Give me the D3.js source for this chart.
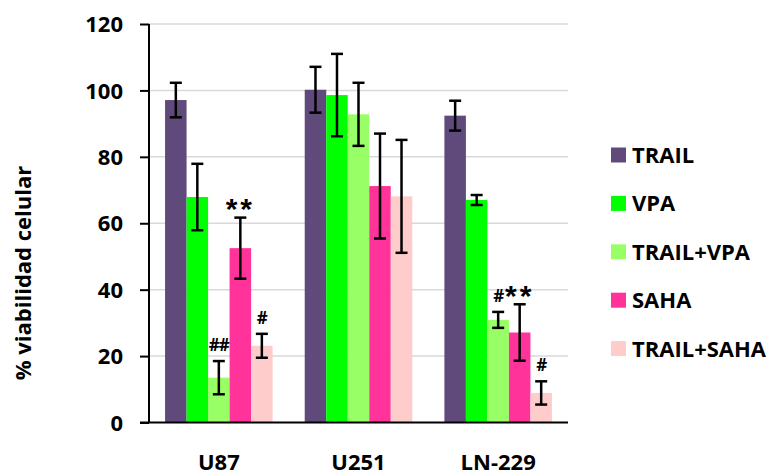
<!DOCTYPE html>
<html>
<head>
<meta charset="utf-8">
<script src="https://cdn.jsdelivr.net/npm/d3@7"></script>
<style>
  html, body { margin: 0; padding: 0; background: #fff; }
  svg text { font-family: "Open Sans", "Liberation Sans", sans-serif; font-weight: bold; fill: #000; }
</style>
</head>
<body>
<svg id="chart" width="769" height="475"></svg>
<script>
// Cell lines on the x axis
const categories = ["U87", "U251", "LN-229"];
// Treatments (one bar each per cell line)
const seriesNames = ["TRAIL", "VPA", "TRAIL+VPA", "SAHA", "TRAIL+SAHA"];
const seriesColors = ["#604A7B", "#00FF00", "#99FF66", "#FF3399", "#FFCCCC"];
// Mean viability (%) per treatment, in category order
const trail      = [97.1, 100.2, 92.4];
const vpa        = [67.9, 98.6, 67.0];
const trailVpa   = [13.5, 92.8, 30.9];
const saha       = [52.5, 71.2, 27.1];
const trailSaha  = [23.1, 68.1, 8.9];
// Error (± SD) per treatment
const trailErr     = [5.2, 6.9, 4.5];
const vpaErr       = [10.0, 12.4, 1.5];
const trailVpaErr  = [5.0, 9.5, 2.4];
const sahaErr      = [9.2, 15.8, 8.5];
const trailSahaErr = [3.6, 17.0, 3.5];
// Significance marks: [category, series, text]
const marks = [
  ["U87", "TRAIL+VPA", "##"],
  ["U87", "SAHA", "**"],
  ["U87", "TRAIL+SAHA", "#"],
  ["LN-229", "TRAIL+VPA", "#"],
  ["LN-229", "SAHA", "**"],
  ["LN-229", "TRAIL+SAHA", "#"]
];
const yTicks = [0, 20, 40, 60, 80, 100, 120];
const yLabel = "% viabilidad celular";

const values = [trail, vpa, trailVpa, saha, trailSaha];
const errors = [trailErr, vpaErr, trailVpaErr, sahaErr, trailSahaErr];

const rows = [];
categories.forEach((c, ci) => {
  seriesNames.forEach((s, si) => {
    rows.push({ cat: c, series: s, value: values[si][ci], err: errors[si][ci], color: seriesColors[si] });
  });
});

const svg = d3.select("#chart");
const plot = { left: 149, right: 568, top: 24, bottom: 422.5 };

const x0 = d3.scaleBand().domain(categories).range([plot.left, plot.right]).paddingInner(0.23).paddingOuter(0.115);
const x1 = d3.scaleBand().domain(seriesNames).range([0, x0.bandwidth()]);
const y = d3.scaleLinear().domain([0, 120]).range([plot.bottom, plot.top]);

// Gridlines
svg.append("g")
  .selectAll("line")
  .data(yTicks.filter(t => t > 0))
  .join("line")
  .attr("x1", plot.left).attr("x2", plot.right)
  .attr("y1", d => y(d)).attr("y2", d => y(d))
  .attr("stroke", "#d9d9d9").attr("stroke-width", 1.5);

// Bars
svg.append("g")
  .selectAll("rect")
  .data(rows)
  .join("rect")
  .attr("x", d => x0(d.cat) + x1(d.series))
  .attr("width", x1.bandwidth())
  .attr("y", d => y(d.value))
  .attr("height", d => y(0) - y(d.value))
  .attr("fill", d => d.color);

// Error bars
const eb = svg.append("g").attr("stroke", "#000").attr("stroke-width", 2.5);
rows.forEach(d => {
  const cx = x0(d.cat) + x1(d.series) + x1.bandwidth() / 2;
  const y1 = y(d.value + d.err), y2 = y(d.value - d.err);
  eb.append("line").attr("x1", cx).attr("x2", cx).attr("y1", y1).attr("y2", y2);
  eb.append("line").attr("x1", cx - 6).attr("x2", cx + 6).attr("y1", y1).attr("y2", y1);
  eb.append("line").attr("x1", cx - 6).attr("x2", cx + 6).attr("y1", y2).attr("y2", y2);
});

// Significance marks above the error bars
marks.forEach(([c, s, t]) => {
  const d = rows.find(r => r.cat === c && r.series === s);
  const cx = x0(c) + x1(s) + x1.bandwidth() / 2;
  const star = t.includes("*");
  const label = svg.append("text")
    .attr("x", cx)
    .attr("y", y(d.value + d.err) - (star ? 17 : 16))
    .attr("dy", star ? "0.62em" : "0.36em")
    .attr("text-anchor", "middle")
    .attr("font-size", star ? 30 : 17)
    .attr("letter-spacing", star ? 3 : -1)
    .text(t);
  if (star) label.style("font-family", "'Liberation Sans', sans-serif");
});

// Y axis
const yAxis = svg.append("g")
  .attr("transform", `translate(${plot.left},0)`)
  .call(d3.axisLeft(y).tickValues(yTicks).tickSize(9).tickPadding(17));
yAxis.attr("font-family", null).attr("font-size", null);
yAxis.selectAll("path, line").attr("stroke", "#000").attr("stroke-width", 2);
yAxis.select(".domain").attr("d", `M0,${plot.top}V${plot.bottom}`);
yAxis.selectAll("text").attr("font-size", 22).attr("dy", "0.35em");

// X axis (line only)
svg.append("line")
  .attr("x1", plot.left - 9).attr("x2", plot.right)
  .attr("y1", plot.bottom).attr("y2", plot.bottom)
  .attr("stroke", "#000").attr("stroke-width", 2);

// Category labels
svg.append("g")
  .selectAll("text")
  .data(categories)
  .join("text")
  .attr("x", d => x0(d) + x0.bandwidth() / 2)
  .attr("y", 470)
  .attr("text-anchor", "middle")
  .attr("font-size", 22)
  .text(d => d);

// Y axis title
svg.append("text")
  .attr("transform", "translate(31,273) rotate(-90)")
  .attr("text-anchor", "middle")
  .attr("font-size", 22)
  .text(yLabel);

// Legend
const legend = svg.append("g");
seriesNames.forEach((s, i) => {
  const cy = 155 + i * 48.4;
  legend.append("rect")
    .attr("x", 611).attr("y", cy - 7.5)
    .attr("width", 15).attr("height", 15)
    .attr("fill", seriesColors[i]);
  legend.append("text")
    .attr("x", 632).attr("y", cy)
    .attr("dy", "0.36em")
    .attr("font-size", 22)
    .text(s);
});
</script>
</body>
</html>
